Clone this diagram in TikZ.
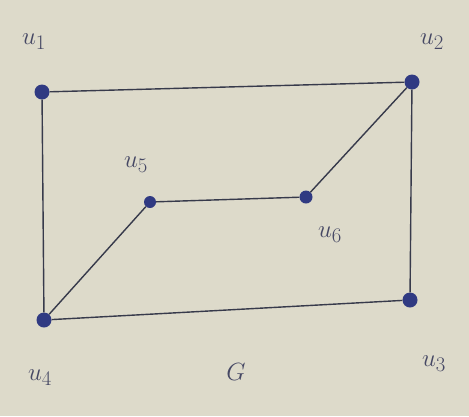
\documentclass[tikz,border=0pt]{standalone}
\usepackage{fontspec}
\definecolor{paper}{RGB}{221,218,202}
\definecolor{ink}{RGB}{48,58,130}
\definecolor{pencil}{RGB}{55,58,75}
\definecolor{labelink}{RGB}{70,72,100}
\tikzset{
  vert/.style={circle,fill=ink,inner sep=0pt,minimum size=15pt},
  edge/.style={draw=pencil,line width=1.4pt},
  lab/.style={text=labelink,font=\fontsize{32}{34}\selectfont}
}
\begin{document}
\begin{tikzpicture}[x=1pt,y=-1pt]
\fill[paper] (0,0) rectangle (469,416);
\useasboundingbox (0,0) rectangle (469,416);
\node[vert] (u1) at (42,92) {};
\node[vert] (u2) at (412,82) {};
\node[vert] (u3) at (410,300) {};
\node[vert] (u4) at (44,320) {};
\node[vert,minimum size=12pt] (u5) at (150,202) {};
\node[vert,minimum size=13pt] (u6) at (306,197) {};
\draw[edge] (u1) -- (u2);
\draw[edge] (u2) -- (u3);
\draw[edge] (u3) -- (u4);
\draw[edge] (u4) -- (u1);
\draw[edge] (u4) -- (u5);
\draw[edge] (u5) -- (u6);
\draw[edge] (u6) -- (u2);
\node[lab] (l1) at (34,42) {$u_1$};
\node[lab] (l2) at (432,42) {$u_2$};
\node[lab] (l3) at (434,364) {$u_3$};
\node[lab] (l4) at (40,378) {$u_4$};
\node[lab] (l5) at (136,165) {$u_5$};
\node[lab] (l6) at (330,235) {$u_6$};
\node[lab] (g) at (236,372) {$G$};
\end{tikzpicture}
\end{document}
